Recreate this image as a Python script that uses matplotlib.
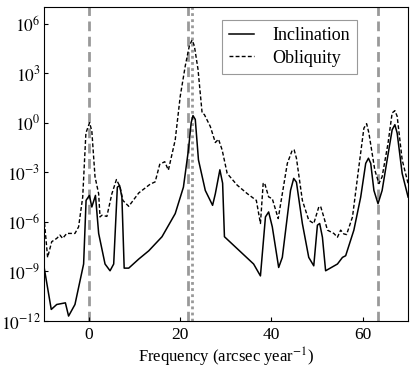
import matplotlib
matplotlib.use("Agg")
import matplotlib.pyplot as plt
import numpy as np

plt.rcParams['font.family'] = ['Liberation Serif', 'DejaVu Serif']
plt.rcParams['mathtext.fontset'] = 'stix'

# Inclination spectrum: frequency (arcsec/yr), log10 amplitude
inc_freq = [-9.9, -8.3, -7.1, -5.2, -4.5, -3.1, -1.2, -0.66, 0.07, 0.6, 1.4, 2.1, 3.5, 4.6, 5.4,
            6.2, 6.7, 7.2, 7.7, 8.7, 10.9, 13.1, 16.0, 18.9, 20.7, 21.8, 22.4, 22.8, 23.3,
            24.0, 25.5, 27.1, 27.7, 28.7, 29.3, 29.7, 36.1, 37.6, 38.7, 39.4, 40.2, 41.6,
            42.4, 44.2, 44.9, 45.5, 46.8, 48.2, 49.3, 50.1, 50.6, 51.2, 51.9, 54.5, 55.6,
            56.3, 58.1, 59.6, 60.7, 61.3, 61.8, 62.5, 63.4, 64.3, 65.4, 66.5, 67.1, 67.6,
            68.7, 70.0]
inc_log = [-8.7, -11.3, -11.0, -10.9, -11.7, -11.0, -8.55, -4.7, -4.4, -5.1, -4.4, -6.7, -8.55,
           -8.96, -8.55, -3.9, -3.8, -4.5, -8.8, -8.8, -8.25, -7.75, -6.9, -5.5, -3.9, -1.65,
           0.0, 0.43, 0.2, -2.25, -4.1, -5.0, -4.3, -2.85, -3.66, -6.9, -8.55, -9.27, -5.7,
           -5.4, -6.3, -8.76, -8.15, -4.1, -3.37, -3.6, -6.1, -8.15, -8.66, -6.2, -6.1, -6.93,
           -8.96, -8.55, -8.15, -8.05, -6.5, -4.5, -2.46, -2.15, -2.46, -4.1, -4.9, -4.1,
           -2.25, -0.43, -0.12, -0.63, -3.07, -4.5]

# Obliquity spectrum
obl_freq = [-9.9, -9.1, -8.2, -7.1, -6.4, -5.8, -4.9, -3.1, -2.3, -1.4, -0.7, 0.1, 0.6, 1.3,
            2.1, 2.4, 2.8, 3.9, 5.0, 6.0, 6.8, 7.4, 8.7, 10.9, 13.4, 14.5, 15.5, 16.6, 17.4,
            18.9, 20.0, 21.1, 22.0, 22.6, 23.1, 23.9, 24.8, 25.3, 26.6, 27.7, 28.4, 29.2,
            30.3, 32.5, 34.7, 36.7, 37.6, 38.2, 38.5, 39.4, 40.2, 41.5, 43.5, 44.6, 45.0,
            45.5, 46.8, 48.2, 49.3, 50.4, 50.8, 51.5, 52.3, 53.7, 54.5, 55.2, 55.9, 56.5,
            57.8, 59.2, 60.3, 60.9, 61.4, 62.7, 63.6, 64.3, 65.6, 66.5, 67.1, 67.6, 68.7, 70.0]
obl_log = [-5.7, -8.15, -7.2, -7.0, -6.8, -7.0, -6.7, -6.7, -6.3, -4.5, -0.63, 0.0, -0.5, -3.27,
           -4.3, -5.7, -5.6, -5.67, -4.3, -3.44, -3.88, -4.7, -5.06, -4.25, -3.72, -3.58, -2.52,
           -2.36, -2.87, -1.04, 1.6, 3.43, 4.65, 5.0, 4.65, 3.23, 0.59, 0.49, -0.23, -1.2,
           -1.0, -1.65, -3.07, -3.78, -4.29, -4.7, -6.1, -3.68, -3.64, -4.49, -4.6, -5.8,
           -2.46, -1.65, -1.65, -2.15, -4.7, -5.9, -6.1, -5.1, -5.06, -5.7, -6.5, -6.7, -6.93,
           -6.5, -6.73, -6.77, -5.7, -2.66, -0.33, -0.06, -0.63, -2.87, -3.68, -3.27, -1.24,
           0.59, 0.73, 0.39, -2.25, -3.68]

dashed_marks = [0.0, 21.6, 63.4]
dotted_marks = [22.5]

yticks = [1e-12, 1e-9, 1e-6, 1e-3, 1e0, 1e3, 1e6]
ytick_labels = [r'$10^{-12}$', r'$10^{-9}$', r'$10^{-6}$', r'$10^{-3}$', r'$10^{0}$', r'$10^{3}$', r'$10^{6}$']
xticks = [0, 20, 40, 60]

fig = plt.figure(figsize=(4.16, 3.70), dpi=100)
ax = fig.add_axes([0.1046, 0.1324, 0.8764, 0.8486])

for xv in dashed_marks:
    ax.axvline(xv, color='#999999', lw=2.0, ls=(0, (3.5, 2.0)), zorder=1)
for xv in dotted_marks:
    ax.axvline(xv, color='#999999', lw=2.0, ls=(0, (1, 1.2)), zorder=1)

ax.plot(inc_freq, 10 ** np.array(inc_log), color='black', lw=1.1, label='Inclination', zorder=3)
ax.plot(obl_freq, 10 ** np.array(obl_log), color='black', lw=1.0, ls=(0, (2.8, 1.6)),
        label='Obliquity', zorder=3)

ax.set_yscale('log')
ax.set_xlim(-10, 70)
ax.set_ylim(1e-12, 1e7)
ax.set_yticks(yticks)
ax.set_yticklabels(ytick_labels)
ax.yaxis.set_minor_locator(matplotlib.ticker.NullLocator())
ax.set_xticks(xticks)
ax.tick_params(axis='y', direction='in', length=3, labelsize=12.5, width=0.8, pad=2)
ax.tick_params(axis='x', direction='in', length=3, labelsize=12.5, width=0.8, pad=4)
ax.set_xlabel(r'Frequency (arcsec year$^{-1}$)', fontsize=12, labelpad=2)

leg = ax.legend(loc='upper right', bbox_to_anchor=(0.86, 0.959), borderaxespad=0,
                fontsize=13, fancybox=False, framealpha=1, edgecolor='#999999',
                handlelength=1.4, handletextpad=1.0, borderpad=0.4, labelspacing=0.3)
leg.get_frame().set_linewidth(0.8)

fig.savefig('out.png', dpi=100)
